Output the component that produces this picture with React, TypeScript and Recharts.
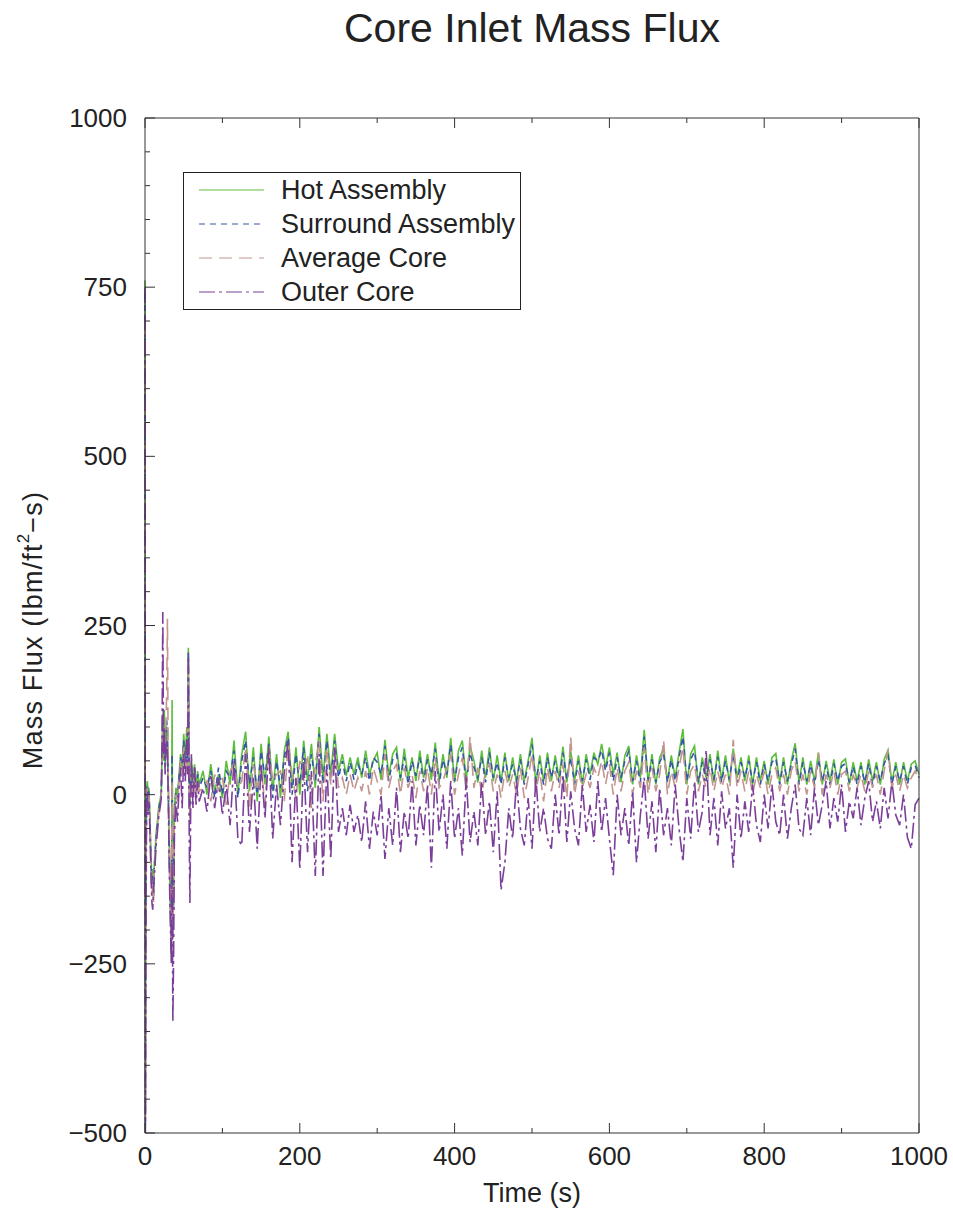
import React from 'react';
import { LineChart, Line, XAxis, YAxis, Legend } from 'recharts';

const FONT = '"Liberation Sans", Arial, Helvetica, sans-serif';

// time (s)
const times = [
  0, 0.5, 1, 2, 3, 4, 5, 6, 7, 8, 9, 10, 11, 12, 13, 14, 16, 18, 20, 21,
  22, 23, 24, 25, 26, 27, 28, 29, 30, 31, 32, 33, 34, 35, 36, 37, 38, 40, 42, 44,
  46, 48, 50, 52, 54, 55, 56, 57, 58, 59, 60, 62, 64, 66, 68, 70,
  75, 80, 85, 90, 95, 100, 105, 110, 115, 120,
  125, 130, 135, 140, 145, 150, 155, 160, 165, 170,
  175, 180, 185, 190, 195, 200, 205, 210, 215, 220,
  225, 230, 235, 240, 245, 250, 255, 260, 265, 270,
  275, 280, 285, 290, 295, 300, 305, 310, 315, 320,
  325, 330, 335, 340, 345, 350, 355, 360, 365, 370,
  375, 380, 385, 390, 395, 400, 405, 410, 415, 420,
  425, 430, 435, 440, 445, 450, 455, 460, 465, 470,
  475, 480, 485, 490, 495, 500, 505, 510, 515, 520,
  525, 530, 535, 540, 545, 550, 555, 560, 565, 570,
  575, 580, 585, 590, 595, 600, 605, 610, 615, 620,
  625, 630, 635, 640, 645, 650, 655, 660, 665, 670,
  675, 680, 685, 690, 695, 700, 705, 710, 715, 720,
  725, 730, 735, 740, 745, 750, 755, 760, 765, 770,
  775, 780, 785, 790, 795, 800, 805, 810, 815, 820,
  825, 830, 835, 840, 845, 850, 855, 860, 865, 870,
  875, 880, 885, 890, 895, 900, 905, 910, 915, 920,
  925, 930, 935, 940, 945, 950, 955, 960, 965, 970,
  975, 980, 985, 990, 995, 1000,
];

const hotAssembly = [
  760, -470, -150, 10, 20, 5, 10, -20, -60, -100, -130, -110, -150, -100, -90, -60, -40, -15, -5, 5,
  60, 120, 50, 125, 40, 90, 100, 80, 20, -50, -120, -180, -240, 140, -200, -150, -20, 10, 0, 30,
  60, 40, 90, 50, 100, 60, 217, 40, -20, 30, 50, 10, 45, 5, 35, 15,
  35, 0, 45, 5, 30, -5, 50, 15, 80, 0,
  60, 93, 5, 70, -10, 75, 15, 86, 5, 60,
  -5, 65, 93, 10, 70, 0, 80, 20, 75, 10,
  100, 25, 90, 30, 90, 35, 60, 28, 55, 30,
  55, 25, 65, 30, 50, 62, 22, 81, 28, 60,
  70, 20, 68, 25, 55, 20, 65, 25, 60, 22,
  77, 20, 60, 25, 84, 18, 65, 80, 22, 72,
  50, 18, 65, 25, 70, 20, 58, 18, 62, 20,
  55, 18, 60, 20, 50, 84, 15, 58, 20, 62,
  20, 58, 25, 71, 18, 65, 20, 58, 15, 60,
  30, 62, 45, 75, 40, 70, 30, 62, 18, 58,
  72, 15, 58, 25, 96, 18, 60, 15, 55, 68,
  20, 58, 25, 62, 97, 15, 60, 72, 15, 55,
  25, 60, 18, 65, 22, 58, 18, 68, 25, 55,
  20, 58, 15, 55, 20, 50, 15, 55, 61, 18,
  55, 15, 50, 76, 18, 55, 15, 50, 20, 62,
  15, 50, 20, 52, 15, 48, 53, 15, 48, 20,
  48, 15, 52, 20, 48, 15, 52, 66, 18, 48,
  15, 48, 20, 45, 50, 30,
];

const surroundAssembly = [
  740, -490, -200, 5, 15, 0, 5, -25, -70, -110, -140, -120, -150, -105, -95, -65, -45, -20, -10, 0,
  50, 110, 60, 90, 50, 80, 110, 90, 10, -60, -130, -170, -230, 60, -210, -140, -25, 5, -5, 25,
  55, 35, 80, 40, 80, 50, 210, 30, -30, 20, 40, 5, 40, 0, 30, 10,
  25, 10, 35, -5, 40, 0, 35, 25, 65, -5,
  50, 80, 15, 55, 0, 65, 25, 75, -5, 50,
  10, 55, 85, 0, 60, 15, 70, 5, 60, 20,
  90, 15, 80, 20, 80, 25, 50, 20, 48, 22,
  45, 30, 55, 20, 55, 48, 30, 72, 20, 52,
  60, 25, 56, 15, 50, 28, 55, 18, 52, 30,
  68, 15, 52, 30, 74, 20, 55, 70, 15, 62,
  40, 25, 55, 18, 62, 25, 48, 15, 55, 25,
  45, 20, 52, 15, 45, 74, 20, 50, 15, 55,
  25, 50, 18, 62, 22, 55, 15, 50, 20, 52,
  22, 55, 50, 66, 35, 62, 20, 55, 25, 50,
  64, 20, 50, 18, 86, 22, 52, 18, 48, 60,
  18, 52, 20, 55, 86, 20, 52, 64, 18, 48,
  20, 52, 22, 56, 18, 50, 22, 60, 18, 48,
  25, 50, 18, 48, 15, 45, 20, 48, 54, 15,
  48, 20, 44, 68, 15, 48, 20, 44, 15, 52,
  20, 44, 15, 46, 20, 42, 46, 18, 42, 15,
  42, 18, 46, 15, 42, 20, 46, 58, 15, 42,
  20, 42, 15, 40, 44, 25,
];

const averageCore = [
  700, -480, -180, 0, 10, -5, 0, -30, -75, -120, -150, -130, -160, -110, -100, -70, -50, -20, -10, 0,
  40, 100, 70, 80, 60, 100, 150, 260, 40, -40, -110, -160, -220, 20, -230, -120, -30, 0, -10, 20,
  50, 30, 70, 30, 70, 40, 200, 20, -40, 10, 35, 0, 30, -5, 25, 5,
  10, 20, -10, 30, 5, 25, -15, 35, 45, 10,
  20, 70, -20, 45, 10, 40, -15, 70, 20, 30,
  35, -10, 75, 30, -5, 50, 20, 60, -20, 45,
  80, -10, 70, 15, 70, 10, 25, 0, 30, 5,
  25, 5, 35, 0, 40, 20, 0, 60, 10, 35,
  45, 0, 40, 10, 30, -5, 35, 5, 40, 0,
  55, 10, 20, 40, 60, 0, 30, 55, 5, 86,
  10, 40, 0, 35, 45, 5, 30, -5, 35, 10,
  30, 0, 40, -5, 25, 60, 5, 35, -10, 40,
  5, 35, 10, 45, -5, 85, 0, 35, 10, 30,
  10, 40, 25, 50, 15, 45, 0, 40, 5, 35,
  48, 0, 35, 10, 70, 0, 40, 5, 30, 81,
  0, 35, 10, 40, 70, 0, 35, 45, 5, 30,
  10, 40, 5, 35, 10, 30, 0, 81, 10, 35,
  5, 35, 0, 30, 10, 35, 0, 30, 40, 5,
  30, 0, 35, 50, 5, 30, 0, 35, 10, 62,
  0, 30, 10, 35, 0, 30, 35, 5, 30, 10,
  30, 5, 35, 10, 30, 0, 35, 66, 10, 30,
  5, 30, 10, 25, 35, 20,
];

const outerCore = [
  750, -500, -250, -20, 5, -30, -10, -40, -80, -130, -160, -170, -140, -120, -105, -80, -55, -30, -15, -5,
  80, 270, 60, 100, 30, 70, 80, 60, 0, -80, -150, -200, -250, -100, -335, -230, -60, -10, -40, 10,
  40, -20, 60, 20, 90, 30, 210, -40, -160, -20, 60, -20, 40, -15, 20, -10,
  10, -25, 30, -20, 25, -30, 15, -45, 50, -65,
  -75, 60, -55, 25, -80, 45, -35, 70, -65, 15,
  -45, 35, 80, -100, 25, -110, 55, -85, 35, -120,
  60, -120, 45, -95, 70, -55, -20, -60, -15, -55,
  -30, -70, -10, -80, -25, -60, 0, -95, -20, -75,
  10, -85, -25, -65, 20, -75, -15, -60, 15, -108,
  35, -55, 0, -80, 20, -65, -20, -90, 25, -70,
  -25, -75, 20, -60, -10, -85, 5, -141, -100, -20,
  -65, 20, -50, -75, -5, -80, 25, -55, -20, -65,
  -80, 0, -60, 30, -70, 5, -50, -75, 15, -55,
  -15, -70, 20, -55, -5, -65, -119, 0, -60, -20,
  -75, 5, -100, -30, 25, -65, -10, -85, 10, -60,
  -20, -75, 15, -50, -99, -5, -65, 20, -55, -25,
  66, -60, -5, -75, 5, -50, -20, -108, 0, -65,
  -10, -55, 15, -45, -70, 0, -50, 15, -40, -60,
  0, -65, -20, 15, -50, -60, -5, -60, 10, -45,
  -15, 20, -50, -5, -40, 15, -55, -10, -35, 10,
  -45, -5, 20, -40, -10, -50, 10, -35, 20, -30,
  -45, 0, -63, -80, -15, -5,
];

const xTicks = [0, 100, 200, 300, 400, 500, 600, 700, 800, 900, 1000];
const yTicks = [
  -500, -450, -400, -350, -300, -250, -200, -150, -100, -50, 0,
  50, 100, 150, 200, 250, 300, 350, 400, 450, 500,
  550, 600, 650, 700, 750, 800, 850, 900, 950, 1000,
];

const SERIES = [
  { key: 'hot', name: 'Hot Assembly', color: '#5cbf3c', dash: undefined },
  { key: 'sur', name: 'Surround Assembly', color: '#3656a8', dash: '6 5' },
  { key: 'avg', name: 'Average Core', color: '#c2958f', dash: '13 7' },
  { key: 'outer', name: 'Outer Core', color: '#7b3f99', dash: '16 4 3 4' },
];

const rows = times.map((t, i) => ({
  t,
  hot: hotAssembly[i],
  sur: surroundAssembly[i],
  avg: averageCore[i],
  outer: outerCore[i],
}));

const fmt = (v: number) => (v < 0 ? `\u2212${Math.abs(v)}` : `${v}`);

const YTick = (props: any) => {
  const { x, y, payload } = props;
  const axisX = x + 18;
  const major = payload.value % 250 === 0;
  return (
    <g>
      <line x1={axisX} x2={axisX + (major ? 10 : 5)} y1={y} y2={y} stroke="#333" />
      {major && (
        <text x={x} y={y} dy="0.35em" textAnchor="end" fontSize={26} fill="#222" fontFamily={FONT}>
          {fmt(payload.value)}
        </text>
      )}
    </g>
  );
};

const XTick = (props: any) => {
  const { x, y, payload } = props;
  const axisY = y - 14;
  const major = payload.value % 200 === 0;
  return (
    <g>
      <line x1={x} x2={x} y1={axisY} y2={axisY - (major ? 10 : 5)} stroke="#333" />
      {major && (
        <text x={x} y={y} dy="0.71em" textAnchor="middle" fontSize={26} fill="#222" fontFamily={FONT}>
          {fmt(payload.value)}
        </text>
      )}
    </g>
  );
};

const TopTick = (props: any) => {
  const { x, y, payload } = props;
  const major = payload.value % 200 === 0;
  return <line x1={x} x2={x} y1={y} y2={y + (major ? 10 : 5)} stroke="#333" />;
};

const renderLegend = () => (
  <svg width={338} height={138} style={{ overflow: 'visible', display: 'block' }}>
    <rect x={0.5} y={0.5} width={337} height={137} fill="#fff" stroke="#222" />
    {SERIES.map((s, i) => {
      const cy = 18 + i * 34;
      return (
        <g key={s.key}>
          <line x1={16} x2={81} y1={cy} y2={cy} stroke={s.color} strokeWidth={1} strokeDasharray={s.dash} />
          <text x={98} y={cy} dy="0.35em" fontSize={27} fill="#222" fontFamily={FONT}>
            {s.name}
          </text>
        </g>
      );
    })}
  </svg>
);

const App: React.FC = () => (
  <div style={{ position: 'absolute', left: 0, top: 0, width: 953, height: 1211, background: '#fff' }}>
    <LineChart width={953} height={1211} data={rows} margin={{ top: 88, right: 14, bottom: 48, left: 85 }}>
      <XAxis
        dataKey="t"
        type="number"
        domain={[0, 1000]}
        ticks={xTicks}
        interval={0}
        tickLine={false}
        tickSize={0}
        tickMargin={14}
        height={30}
        axisLine={{ stroke: '#333' }}
        tick={<XTick />}
        label={{
          content: () => (
            <text x={532} y={1202} textAnchor="middle" fontSize={27} fill="#222" fontFamily={FONT}>
              Time (s)
            </text>
          ),
        }}
      />
      <XAxis
        xAxisId="top"
        orientation="top"
        dataKey="t"
        type="number"
        domain={[0, 1000]}
        ticks={xTicks}
        interval={0}
        tickLine={false}
        tickSize={0}
        tickMargin={0}
        height={30}
        axisLine={{ stroke: '#333' }}
        tick={<TopTick />}
        label={{
          content: () => (
            <text x={532} y={42} textAnchor="middle" fontSize={41} fill="#222" fontFamily={FONT}>
              Core Inlet Mass Flux
            </text>
          ),
        }}
      />
      <YAxis
        type="number"
        domain={[-500, 1000]}
        ticks={yTicks}
        interval={0}
        allowDataOverflow
        tickLine={false}
        tickSize={0}
        tickMargin={18}
        width={60}
        axisLine={{ stroke: '#333' }}
        tick={<YTick />}
        label={{
          content: () => (
            <text
              x={33}
              y={630}
              transform="rotate(-90, 33, 630)"
              textAnchor="middle"
              dominantBaseline="central"
              fontSize={27}
              letterSpacing={1.2}
              fill="#222"
              fontFamily={FONT}
            >
              Mass Flux (lbm/ft
              <tspan dy={-10} fontSize={17}>2</tspan>
              <tspan dy={10}>{'\u2212s)'}</tspan>
            </text>
          ),
        }}
      />
      <YAxis
        yAxisId="right"
        orientation="right"
        domain={[-500, 1000]}
        tick={false}
        tickLine={false}
        width={20}
        axisLine={{ stroke: '#333' }}
      />
      <Legend
        layout="vertical"
        align="center"
        verticalAlign="middle"
        width={338}
        height={138}
        content={renderLegend}
        wrapperStyle={{ left: 183, top: 172, width: 338, height: 138 }}
      />
      {SERIES.map((s) => (
        <Line
          key={s.key}
          type="linear"
          dataKey={s.key}
          name={s.name}
          stroke={s.color}
          strokeWidth={1.6}
          strokeDasharray={s.dash}
          dot={false}
          activeDot={false}
          isAnimationActive={false}
        />
      ))}
    </LineChart>
  </div>
);

export default App;
